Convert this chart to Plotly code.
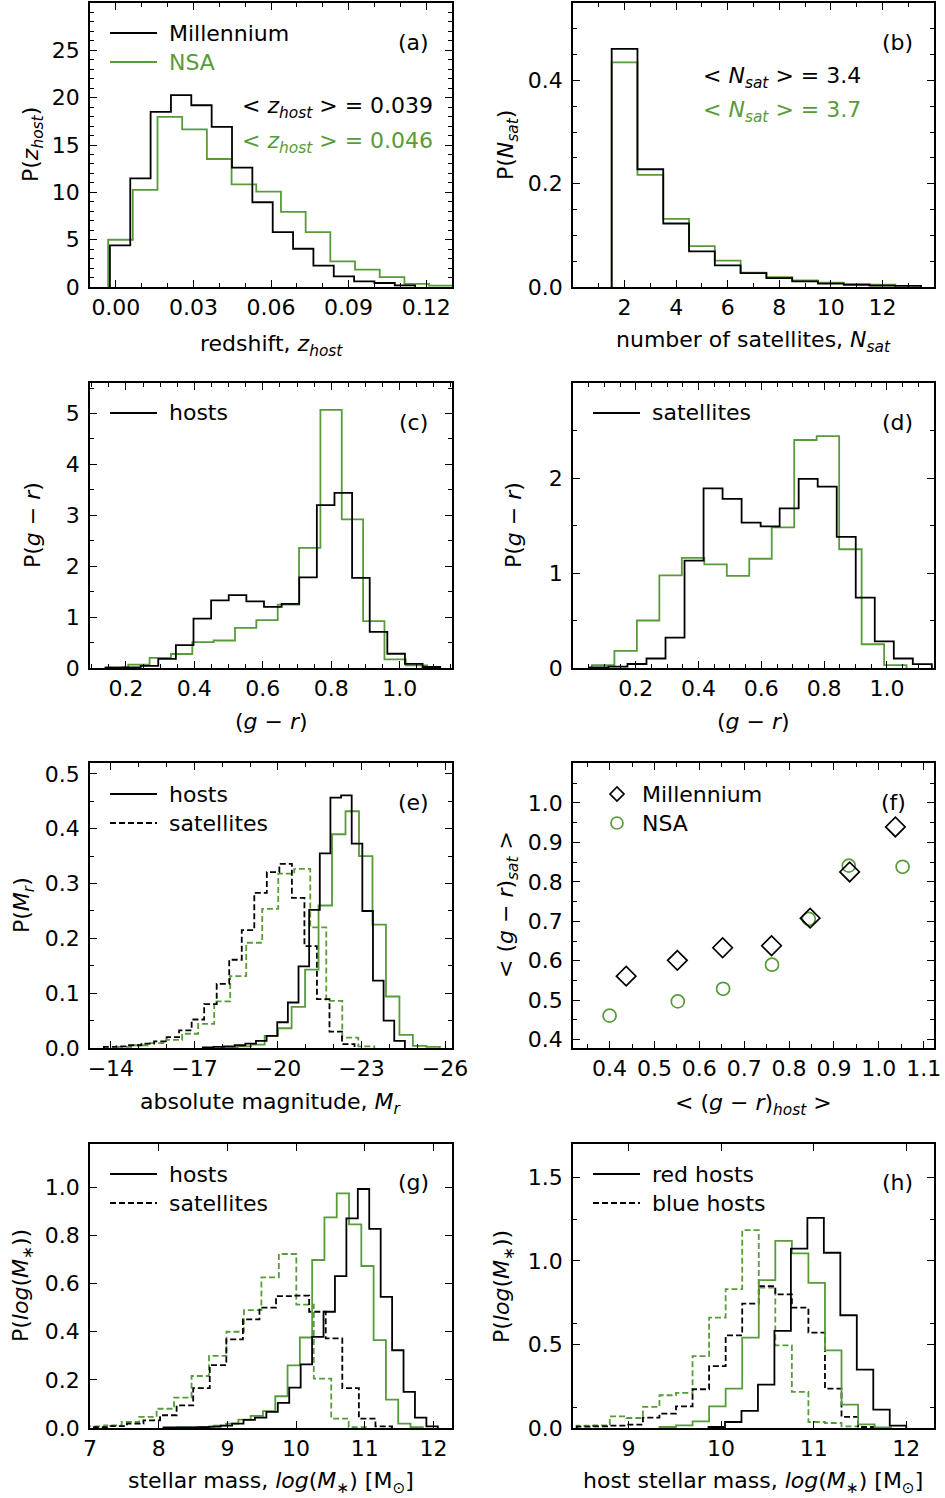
import plotly.graph_objects as go

W, H = 945, 1498
FONT = "DejaVu Sans"
FS = 22
GREEN = "rgb(88,155,58)"
BLACK = "black"

# ---------------- data ----------------
# (a) host redshift distribution (bin start, bin width, densities)
a_mill_lo, a_mill_w = -0.0023, 0.00787
a_mill = [4.39, 11.48, 18.5, 20.26, 19.2, 16.92, 12.6, 8.95, 5.79, 4.04, 2.25, 1.12, 0.6, 0.42, 0.18]
a_nsa_lo, a_nsa_w = -0.003, 0.00955
a_nsa = [4.99, 10.25, 17.98, 16.64, 13.52, 10.85, 10.08, 7.94, 5.79, 2.7, 1.83, 1.05, 0.32, 0.14]
a_mean_mill, a_mean_nsa = "0.039", "0.046"

# (b) number of satellites
b_lo, b_w = 1.5, 1.0
b_mill = [0.461, 0.228, 0.123, 0.069, 0.042, 0.027, 0.017, 0.011, 0.0065, 0.004, 0.0025, 0.002]
b_nsa = [0.435, 0.217, 0.132, 0.079, 0.051, 0.028, 0.019, 0.013, 0.0084, 0.0058, 0.0045]
b_mean_mill, b_mean_nsa = "3.4", "3.7"

# (c) host colour
c_mill_lo, c_mill_w = 0.140, 0.0515
c_mill = [0.005, 0.01, 0.04, 0.18, 0.45, 0.97, 1.33, 1.43, 1.31, 1.2, 1.26, 1.78, 3.2, 3.44, 1.77, 0.71, 0.28, 0.08, 0.02]
c_nsa_lo, c_nsa_w = 0.1444, 0.0624
c_nsa = [0.01, 0.066, 0.197, 0.275, 0.51, 0.54, 0.79, 0.94, 1.245, 2.36, 5.07, 2.92, 0.92, 0.17, 0.05]

# (d) satellite colour
d_mill_lo, d_mill_w = 0.0523, 0.0606
d_mill = [0.007, 0.014, 0.042, 0.1, 0.32, 1.13, 1.89, 1.78, 1.53, 1.49, 1.68, 1.99, 1.91, 1.38, 0.74, 0.28, 0.1, 0.04]
d_nsa_lo, d_nsa_w = 0.0603, 0.0716
d_nsa = [0.03, 0.18, 0.5, 0.975, 1.16, 1.09, 0.97, 1.15, 1.48, 2.4, 2.44, 1.25, 0.25, 0.03]

# (e) absolute magnitude
e_mill_host_lo, e_mill_host_w = -17.30, -0.382
e_mill_host = [0.001, 0.002, 0.003, 0.005, 0.008, 0.013, 0.022, 0.047, 0.083, 0.149, 0.252, 0.355, 0.457, 0.461, 0.373, 0.25, 0.123, 0.05, 0.013]
e_nsa_host_lo, e_nsa_host_w = -18.07, -0.484
e_nsa_host = [0.001, 0.003, 0.006, 0.022, 0.036, 0.075, 0.143, 0.26, 0.39, 0.432, 0.35, 0.225, 0.094, 0.024, 0.004, 0.002]
e_mill_sat_lo, e_mill_sat_w = -13.75, -0.45
e_mill_sat = [0.002, 0.003, 0.005, 0.008, 0.012, 0.02, 0.032, 0.052, 0.08, 0.117, 0.161, 0.215, 0.283, 0.321, 0.336, 0.274, 0.186, 0.089, 0.03, 0.007]
e_nsa_sat_lo, e_nsa_sat_w = -14.26, -0.575
e_nsa_sat = [0.002, 0.005, 0.009, 0.015, 0.026, 0.044, 0.085, 0.131, 0.192, 0.254, 0.318, 0.327, 0.22, 0.086, 0.019, 0.003]

# (f) mean satellite colour vs mean host colour
f_mill_x = [0.437, 0.551, 0.652, 0.761, 0.847, 0.935, 1.037]
f_mill_y = [0.561, 0.601, 0.633, 0.638, 0.708, 0.825, 0.939]
f_nsa_x = [0.400, 0.552, 0.653, 0.762, 0.844, 0.933, 1.053]
f_nsa_y = [0.461, 0.497, 0.529, 0.590, 0.706, 0.841, 0.838]

# (g) stellar mass
g_mill_host_lo, g_mill_host_w = 8.07, 0.1664
g_mill_host = [0.002, 0.002, 0.003, 0.004, 0.006, 0.01, 0.018, 0.034, 0.043, 0.067, 0.104, 0.168, 0.264, 0.379, 0.483, 0.631, 0.871, 0.993, 0.827, 0.545, 0.323, 0.15, 0.043, 0.007]
g_nsa_host_lo, g_nsa_host_w = 8.265, 0.179
g_nsa_host = [0.002, 0.003, 0.005, 0.01, 0.018, 0.035, 0.05, 0.07, 0.132, 0.26, 0.376, 0.698, 0.875, 0.975, 0.846, 0.673, 0.365, 0.118, 0.018, 0.004]
g_mill_sat_lo, g_mill_sat_w = 7.055, 0.2412
g_mill_sat = [0.004, 0.008, 0.018, 0.032, 0.053, 0.094, 0.166, 0.261, 0.368, 0.451, 0.5, 0.548, 0.55, 0.483, 0.372, 0.166, 0.039, 0.007]
g_nsa_sat_lo, g_nsa_sat_w = 6.953, 0.2542
g_nsa_sat = [0.007, 0.011, 0.025, 0.046, 0.08, 0.126, 0.216, 0.3, 0.4, 0.49, 0.626, 0.723, 0.513, 0.205, 0.039, 0.004]

# (h) host stellar mass for red / blue hosts
h_mill_red_lo, h_mill_red_w = 9.864, 0.178
h_mill_red = [0.006, 0.036, 0.102, 0.26, 0.581, 1.074, 1.258, 1.049, 0.675, 0.35, 0.11, 0.014]
h_nsa_red_lo, h_nsa_red_w = 9.334, 0.1788
h_nsa_red = [0.006, 0.016, 0.04, 0.13, 0.236, 0.541, 0.885, 1.12, 1.045, 0.869, 0.465, 0.14, 0.022, 0.004]
h_mill_blue_lo, h_mill_blue_w = 8.440, 0.1788
h_mill_blue = [0.008, 0.01, 0.014, 0.02, 0.062, 0.086, 0.13, 0.232, 0.37, 0.555, 0.745, 0.849, 0.80, 0.72, 0.571, 0.236, 0.066, 0.006]
h_nsa_blue_lo, h_nsa_blue_w = 8.440, 0.1788
h_nsa_blue = [0.014, 0.016, 0.07, 0.06, 0.126, 0.196, 0.21, 0.43, 0.661, 0.831, 1.184, 0.841, 0.495, 0.216, 0.036, 0.03, 0.01]

# tick values
a_xt = [0.0, 0.03, 0.06, 0.09, 0.12]; a_yt = [0, 5, 10, 15, 20, 25]
b_xt = [2, 4, 6, 8, 10, 12]; b_yt = [0.0, 0.2, 0.4]
c_xt = [0.2, 0.4, 0.6, 0.8, 1.0]; c_yt = [0, 1, 2, 3, 4, 5]
d_xt = [0.2, 0.4, 0.6, 0.8, 1.0]; d_yt = [0, 1, 2]
e_xt = [-14, -17, -20, -23, -26]; e_yt = [0.0, 0.1, 0.2, 0.3, 0.4, 0.5]
f_xt = [0.4, 0.5, 0.6, 0.7, 0.8, 0.9, 1.0, 1.1]; f_yt = [0.4, 0.5, 0.6, 0.7, 0.8, 0.9, 1.0]
g_xt = [7, 8, 9, 10, 11, 12]; g_yt = [0.0, 0.2, 0.4, 0.6, 0.8, 1.0]
h_xt = [9, 10, 11, 12]; h_yt = [0.0, 0.5, 1.0, 1.5]


# ---------------- helpers ----------------
def px_x(p):
    return p / W


def px_y(p):
    return 1 - p / H


def step(lo, w, vals):
    e = [lo + w * i for i in range(len(vals) + 1)]
    x = [e[0]] + e[:-1] + [e[-1]]
    y = [0] + list(vals) + [0]
    return x, y


fig = go.Figure()

LW = 1.8
DASH = "6px,3px"


def hist(k, lo, w, vals, color, dash="solid"):
    x, y = step(lo, w, vals)
    s = "" if k == 1 else str(k)
    fig.add_trace(go.Scatter(x=x, y=y, mode="lines", line=dict(color=color, width=LW, dash=dash, shape="hv"),
                             xaxis="x" + s, yaxis="y" + s, showlegend=False, hoverinfo="skip"))


hist(1, a_nsa_lo, a_nsa_w, a_nsa, GREEN)
hist(1, a_mill_lo, a_mill_w, a_mill, BLACK)
hist(2, b_lo, b_w, b_nsa, GREEN)
hist(2, b_lo, b_w, b_mill, BLACK)
hist(3, c_nsa_lo, c_nsa_w, c_nsa, GREEN)
hist(3, c_mill_lo, c_mill_w, c_mill, BLACK)
hist(4, d_nsa_lo, d_nsa_w, d_nsa, GREEN)
hist(4, d_mill_lo, d_mill_w, d_mill, BLACK)
hist(5, e_nsa_sat_lo, e_nsa_sat_w, e_nsa_sat, GREEN, DASH)
hist(5, e_mill_sat_lo, e_mill_sat_w, e_mill_sat, BLACK, DASH)
hist(5, e_nsa_host_lo, e_nsa_host_w, e_nsa_host, GREEN)
hist(5, e_mill_host_lo, e_mill_host_w, e_mill_host, BLACK)
hist(7, g_nsa_sat_lo, g_nsa_sat_w, g_nsa_sat, GREEN, DASH)
hist(7, g_mill_sat_lo, g_mill_sat_w, g_mill_sat, BLACK, DASH)
hist(7, g_nsa_host_lo, g_nsa_host_w, g_nsa_host, GREEN)
hist(7, g_mill_host_lo, g_mill_host_w, g_mill_host, BLACK)
hist(8, h_nsa_blue_lo, h_nsa_blue_w, h_nsa_blue, GREEN, DASH)
hist(8, h_mill_blue_lo, h_mill_blue_w, h_mill_blue, BLACK, DASH)
hist(8, h_nsa_red_lo, h_nsa_red_w, h_nsa_red, GREEN)
hist(8, h_mill_red_lo, h_mill_red_w, h_mill_red, BLACK)

fig.add_trace(go.Scatter(x=f_nsa_x, y=f_nsa_y, mode="markers", xaxis="x6", yaxis="y6",
                         marker=dict(symbol="circle-open", size=13, color=GREEN, line=dict(width=1.7)),
                         showlegend=False, hoverinfo="skip"))
fig.add_trace(go.Scatter(x=f_mill_x, y=f_mill_y, mode="markers", xaxis="x6", yaxis="y6",
                         marker=dict(symbol="diamond-open", size=15, color=BLACK, line=dict(width=1.7)),
                         showlegend=False, hoverinfo="skip"))

# ---------------- axes ----------------
LEFT = (90, 452)
RIGHT = (573, 934)
ROWS = [(3, 287), (383, 668), (763, 1048), (1144, 1428)]


def minor_lin(d):
    return dict(ticks="inside", ticklen=4, tickwidth=1, tickcolor="black", tickmode="linear", tick0=0, dtick=d)


def axis(dom, rng, tv, fmt, anchor, minor=None, standoff=0):
    a = dict(domain=dom, range=rng, tickmode="array", tickvals=tv, tickformat=fmt,
             ticks="inside", ticklen=7, tickwidth=1.3, tickcolor="black",
             showline=True, linecolor="black", linewidth=1.6, mirror="allticks",
             showgrid=False, zeroline=False, anchor=anchor, automargin=False,
             ticklabelstandoff=standoff,
             tickfont=dict(family=FONT, size=FS, color="black"))
    if minor is not None:
        a["minor"] = minor
    return a


panels = [
    # k, col, row, xrange, yrange, xt, xfmt, yt, yfmt, xminor, yminor
    (1, LEFT, 0, [-0.01, 0.13], [0, 30], a_xt, ".2f", a_yt, "d", minor_lin(0.01), minor_lin(1)),
    (2, RIGHT, 0, [0, 14], [0, 0.55], b_xt, "d", b_yt, ".1f", minor_lin(1), minor_lin(0.05)),
    (3, LEFT, 1, [0.095, 1.153], [0, 5.6], c_xt, ".1f", c_yt, "d", minor_lin(0.05), minor_lin(0.5)),
    (4, RIGHT, 1, [0, 1.15], [0, 3.0], d_xt, ".1f", d_yt, "d", minor_lin(0.05), minor_lin(0.5)),
    (5, LEFT, 2, [-13.25, -26.25], [0, 0.52], e_xt, "d", e_yt, ".1f", minor_lin(1), minor_lin(0.05)),
    (6, RIGHT, 2, [0.3185, 1.123], [0.379, 1.101], f_xt, ".1f", f_yt, ".1f", minor_lin(0.05), minor_lin(0.05)),
    (7, LEFT, 3, [7, 12.27], [0, 1.18], g_xt, "d", g_yt, ".1f", None, None),
    (8, RIGHT, 3, [8.4, 12.3], [0, 1.7], h_xt, "d", h_yt, ".1f", None,
     dict(ticks="inside", ticklen=4, tickwidth=1, tickcolor="black", tickmode="array", tickvals=[0.125, 0.625, 1.25])),
]

layout = {}
for k, col, row, xr, yr, xt, xf, yt, yf, xm, ym in panels:
    s = "" if k == 1 else str(k)
    xdom = [px_x(col[0]), px_x(col[1])]
    ydom = [px_y(ROWS[row][1]), px_y(ROWS[row][0])]
    layout["xaxis" + s] = axis(xdom, xr, xt, xf, "y" + s, xm, standoff=0)
    layout["yaxis" + s] = axis(ydom, yr, yt, yf, "x" + s, ym, standoff=4)

fig.update_layout(**layout)

# ---------------- text ----------------
ann = []
shapes = []


def text(x, y, s, color=BLACK, xanchor="left", angle=0, size=FS):
    ann.append(dict(x=px_x(x), y=px_y(y), xref="paper", yref="paper", text=s, showarrow=False,
                    xanchor=xanchor, yanchor="middle", textangle=angle,
                    font=dict(family=FONT, size=size, color=color)))


def legline(x0, x1, y, color=BLACK, dash="solid"):
    shapes.append(dict(type="line", xref="paper", yref="paper", x0=px_x(x0), x1=px_x(x1),
                       y0=px_y(y), y1=px_y(y), line=dict(color=color, width=LW, dash=dash)))


G = "<i>g</i> − <i>r</i>"
MSTAR = "<i>log</i>(<i>M</i><sub>∗</sub>)"

# axis titles
text(271, 345, "redshift, <i>z</i><sub><i>host</i></sub>", xanchor="center")
text(32, 145, "P(<i>z</i><sub><i>host</i></sub>)", xanchor="center", angle=-90)
text(753, 342, "number of satellites, <i>N</i><sub><i>sat</i></sub>", xanchor="center")
text(507, 145, "P(<i>N</i><sub><i>sat</i></sub>)", xanchor="center", angle=-90)
text(271, 721, "(" + G + ")", xanchor="center")
text(32, 525, "P(" + G + ")", xanchor="center", angle=-90)
text(753, 721, "(" + G + ")", xanchor="center")
text(513, 525, "P(" + G + ")", xanchor="center", angle=-90)
text(271, 1103, "absolute magnitude, <i>M</i><sub><i>r</i></sub>", xanchor="center")
text(23, 905, "P(<i>M</i><sub><i>r</i></sub>)", xanchor="center", angle=-90)
text(753, 1104, "&lt; (" + G + ")<sub><i>host</i></sub> &gt;", xanchor="center")
text(507, 905, "&lt; (" + G + ")<sub><i>sat</i></sub> &gt;", xanchor="center", angle=-90)
text(271, 1482, "stellar mass, " + MSTAR + " [M<sub>⊙</sub>]", xanchor="center")
text(22, 1286, "P(" + MSTAR + ")", xanchor="center", angle=-90)
text(753, 1482, "host stellar mass, " + MSTAR + " [M<sub>⊙</sub>]", xanchor="center")
text(503, 1286, "P(" + MSTAR + ")", xanchor="center", angle=-90)

# panel labels
for lab, x, y in [("(a)", 413, 42), ("(b)", 897, 42), ("(c)", 413, 422), ("(d)", 897, 422),
                  ("(e)", 413, 802), ("(f)", 893, 802), ("(g)", 413, 1182), ("(h)", 897, 1182)]:
    text(x, y, lab, xanchor="center")

# mean values
text(435, 108, "&lt; <i>z</i><sub><i>host</i></sub> &gt; = " + a_mean_mill, xanchor="right")
text(435, 142, "&lt; <i>z</i><sub><i>host</i></sub> &gt; = " + a_mean_nsa, GREEN, xanchor="right")
text(701, 78, "&lt; <i>N</i><sub><i>sat</i></sub> &gt; = " + b_mean_mill)
text(701, 111, "&lt; <i>N</i><sub><i>sat</i></sub> &gt; = " + b_mean_nsa, GREEN)

# legends
legline(110, 157, 33); text(167, 33, "Millennium")
legline(110, 157, 62, GREEN); text(167, 62, "NSA", GREEN)
legline(110, 157, 413); text(167, 413, "hosts")
legline(593, 640, 413); text(650, 413, "satellites")
legline(110, 157, 794); text(167, 794, "hosts")
legline(110, 157, 823, dash=DASH); text(167, 823, "satellites")
legline(110, 157, 1174); text(167, 1174, "hosts")
legline(110, 157, 1203, dash=DASH); text(167, 1203, "satellites")
legline(593, 640, 1174); text(650, 1174, "red hosts")
legline(593, 640, 1203, dash=DASH); text(650, 1203, "blue hosts")

# legend markers for panel (f)
shapes.append(dict(type="path", xref="paper", yref="paper",
                   path="M {:.5f} {:.5f} L {:.5f} {:.5f} L {:.5f} {:.5f} L {:.5f} {:.5f} Z".format(
                       px_x(610), px_y(794), px_x(617), px_y(787), px_x(624), px_y(794), px_x(617), px_y(801)),
                   line=dict(color=BLACK, width=1.7)))
shapes.append(dict(type="circle", xref="paper", yref="paper", x0=px_x(611), x1=px_x(623),
                   y0=px_y(829), y1=px_y(817), line=dict(color=GREEN, width=1.7)))
text(640, 794, "Millennium")
text(640, 823, "NSA")

fig.update_layout(width=W, height=H, margin=dict(l=0, r=0, t=0, b=0, autoexpand=False), paper_bgcolor="white",
                  plot_bgcolor="white", annotations=ann, shapes=shapes, showlegend=False,
                  font=dict(family=FONT, size=FS, color="black"))

fig.write_html("out.html")
